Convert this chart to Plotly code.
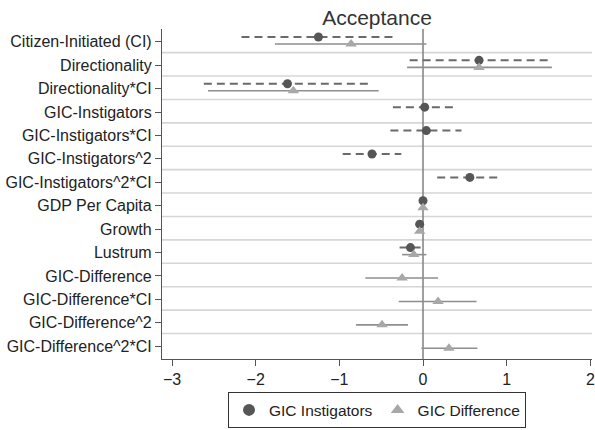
import plotly.graph_objects as go

# Coefficient plot: two models, point estimates with confidence intervals
terms = [
    "Citizen-Initiated (CI)", "Directionality", "Directionality*CI",
    "GIC-Instigators", "GIC-Instigators*CI", "GIC-Instigators^2",
    "GIC-Instigators^2*CI", "GDP Per Capita", "Growth", "Lustrum",
    "GIC-Difference", "GIC-Difference*CI", "GIC-Difference^2",
    "GIC-Difference^2*CI",
]

# Model 1: GIC Instigators (None where the term is not in the model)
inst_coef = [-1.25, 0.67, -1.62, 0.02, 0.04, -0.61, 0.56, 0.00, -0.04, -0.15, None, None, None, None]
inst_lo   = [-2.17, -0.16, -2.62, -0.36, -0.39, -0.96, 0.17, -0.01, -0.07, -0.28, None, None, None, None]
inst_hi   = [-0.34, 1.50, -0.62, 0.40, 0.46, -0.26, 0.94, 0.01, -0.01, -0.01, None, None, None, None]

# Model 2: GIC Difference
diff_coef = [-0.86, 0.67, -1.55, None, None, None, None, 0.00, -0.04, -0.11, -0.25, 0.18, -0.49, 0.31]
diff_lo   = [-1.77, -0.19, -2.57, None, None, None, None, -0.01, -0.07, -0.25, -0.69, -0.29, -0.80, -0.02]
diff_hi   = [0.04, 1.54, -0.53, None, None, None, None, 0.01, -0.01, 0.04, 0.18, 0.64, -0.18, 0.65]

x_ticks = [-3, -2, -1, 0, 1, 2]

pos = list(range(1, len(terms) + 1))
off_inst, off_diff = -0.21, 0.09

INST_COLOR = "#565656"
DIFF_COLOR = "#a8a8a8"
INST_LINE = "#6a6a6a"
DIFF_LINE = "#8e8e8e"


def ci_segments(lo, hi, offset):
    xs, ys = [], []
    for p, a, b in zip(pos, lo, hi):
        if a is None:
            continue
        xs += [a, b, None]
        ys += [p + offset, p + offset, None]
    return xs, ys


def points(coef, offset):
    xs, ys = [], []
    for p, c in zip(pos, coef):
        if c is None:
            continue
        xs.append(c)
        ys.append(p + offset)
    return xs, ys


fig = go.Figure()

sx, sy = ci_segments(inst_lo, inst_hi, off_inst)
fig.add_trace(go.Scatter(x=sx, y=sy, mode="lines", showlegend=False, hoverinfo="skip",
                         line=dict(color=INST_LINE, width=2, dash="8px,5px")))
sx, sy = ci_segments(diff_lo, diff_hi, off_diff)
fig.add_trace(go.Scatter(x=sx, y=sy, mode="lines", showlegend=False, hoverinfo="skip",
                         line=dict(color=DIFF_LINE, width=1.6)))

px, py = points(inst_coef, off_inst)
fig.add_trace(go.Scatter(x=px, y=py, mode="markers", name="GIC Instigators",
                         marker=dict(symbol="circle", size=9, color=INST_COLOR)))
px, py = points(diff_coef, off_diff)
fig.add_trace(go.Scatter(x=px, y=py, mode="markers", name="GIC Difference",
                         marker=dict(symbol="triangle-up", size=10, color=DIFF_COLOR)))

shapes = []
for p in pos[:-1]:
    shapes.append(dict(type="line", xref="paper", yref="y", x0=0, x1=1,
                       y0=p + 0.46, y1=p + 0.46, layer="below",
                       line=dict(color="#d6d6d6", width=1.6)))
shapes.append(dict(type="line", xref="x", yref="paper", x0=0, x1=0, y0=0, y1=1,
                   layer="below", line=dict(color="#808080", width=1.5)))

fig.update_layout(
    width=595, height=430,
    margin=dict(l=162, r=0, t=29, b=71),
    paper_bgcolor="white", plot_bgcolor="white",
    font=dict(family="Liberation Sans, Arial, sans-serif", size=16, color="#222222"),
    title=dict(text="Acceptance", x=0.5, xref="paper", xanchor="center",
               y=1, yref="paper", yanchor="bottom", pad=dict(b=4),
               font=dict(size=21, color="#333333")),
    shapes=shapes,
    showlegend=True,
    legend=dict(orientation="h", x=0.5, xanchor="center", y=-0.21, yanchor="bottom",
                bordercolor="#333333", borderwidth=1, bgcolor="white",
                font=dict(size=15.5, color="#222222"), itemwidth=30,
                itemsizing="constant", tracegroupgap=0),
)

fig.update_xaxes(range=[-3.12, 2.02], tickvals=x_ticks, showgrid=False, zeroline=False,
                 showline=True, linecolor="#555555", linewidth=1.2,
                 ticks="outside", ticklen=6, tickcolor="#555555",
                 ticklabeloverflow="allow")
fig.update_yaxes(range=[14.55, 0.45], tickvals=pos, ticktext=terms, showgrid=False,
                 zeroline=False, showline=True, linecolor="#555555", linewidth=1.2,
                 ticks="outside", ticklen=6, tickcolor="#555555")

fig.write_html("out.html")
